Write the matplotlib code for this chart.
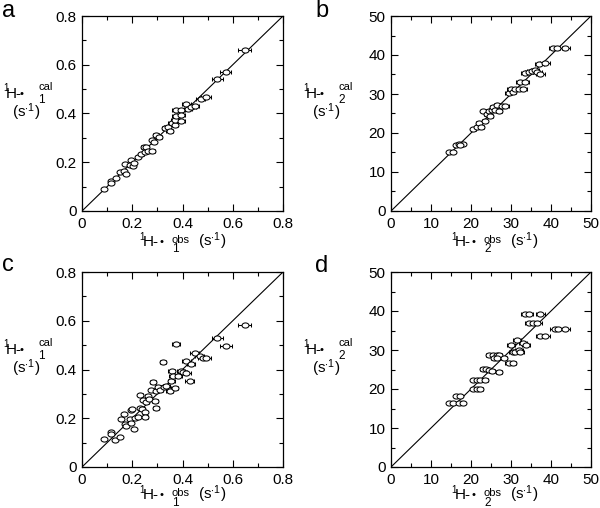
import matplotlib
matplotlib.use("Agg")
import matplotlib.pyplot as plt
from matplotlib.ticker import MultipleLocator
from matplotlib.path import Path

plt.rcParams['font.family'] = ['Liberation Sans', 'DejaVu Sans']
plt.rcParams['mathtext.fontset'] = 'custom'
plt.rcParams['mathtext.rm'] = 'Liberation Sans'
plt.rcParams['mathtext.it'] = 'Liberation Sans:italic'
plt.rcParams['mathtext.bf'] = 'Liberation Sans:bold'

# ---------------- data ----------------
a_x = [0.088,0.114,0.117,0.134,0.153,0.166,0.174,0.172,0.194,0.19,0.203,0.206,0.223,0.236,0.245,0.251,0.256,0.263,0.28,0.28,0.285,0.296,0.306,0.332,0.342,0.349,0.357,0.369,0.375,0.371,0.375,0.393,0.395,0.393,0.415,0.422,0.435,0.448,0.472,0.495,0.539,0.572,0.647]
a_y = [0.090,0.124,0.114,0.135,0.160,0.166,0.153,0.194,0.211,0.19,0.186,0.198,0.222,0.233,0.261,0.242,0.261,0.246,0.246,0.293,0.283,0.311,0.304,0.341,0.345,0.328,0.361,0.352,0.413,0.375,0.389,0.413,0.393,0.369,0.44,0.42,0.427,0.431,0.461,0.466,0.540,0.569,0.662]
a_xerr = [0.004,0.005,0.005,0.005,0.006,0.007,0.007,0.007,0.008,0.008,0.008,0.008,0.009,0.009,0.010,0.010,0.010,0.011,0.011,0.011,0.011,0.012,0.012,0.013,0.014,0.014,0.014,0.015,0.015,0.015,0.015,0.016,0.016,0.016,0.017,0.017,0.017,0.018,0.019,0.020,0.022,0.023,0.026]

b_x = [14.6,15.6,16.3,16.9,17.9,17.2,20.6,21.5,21.9,22.5,23.4,23.1,24.0,24.4,24.8,25.2,25.6,26.0,26.5,27.0,27.7,28.5,29.4,29.9,30.4,31.0,31.9,32.3,33.1,33.5,33.5,34.4,35.2,36.0,36.6,37.3,37.1,38.5,40.6,41.5,43.5]
b_y = [15.1,15.1,16.9,17.3,17.3,16.8,21.1,21.5,22.6,21.5,23.0,25.6,24.8,25.6,24.3,26.0,26.7,25.8,27.1,25.6,26.8,27.0,30.3,31.4,30.5,31.4,31.4,33.1,31.4,33.1,35.4,35.6,35.9,36.2,35.6,35.0,37.8,37.9,41.8,41.8,41.8]
b_xerr = [0.4,0.5,0.5,0.5,0.5,0.5,0.6,0.6,0.7,0.7,0.7,0.7,0.7,0.7,0.7,0.8,0.8,0.8,0.8,0.8,0.8,0.9,0.9,0.9,0.9,0.9,1.0,1.0,1.0,1.0,1.0,1.0,1.1,1.1,1.1,1.1,1.1,1.2,1.2,1.2,1.3]

c_x = [0.088,0.114,0.114,0.13,0.15,0.154,0.166,0.172,0.176,0.19,0.194,0.2,0.196,0.206,0.21,0.223,0.23,0.232,0.24,0.243,0.25,0.252,0.256,0.261,0.267,0.276,0.283,0.289,0.293,0.296,0.302,0.312,0.326,0.322,0.336,0.349,0.356,0.358,0.362,0.369,0.375,0.382,0.393,0.4,0.415,0.415,0.428,0.433,0.448,0.468,0.482,0.495,0.539,0.574,0.647]
c_y = [0.113,0.143,0.135,0.11,0.125,0.198,0.218,0.177,0.17,0.195,0.232,0.236,0.18,0.154,0.2,0.204,0.243,0.296,0.238,0.275,0.225,0.204,0.266,0.293,0.277,0.316,0.347,0.272,0.241,0.313,0.33,0.316,0.327,0.429,0.334,0.313,0.354,0.392,0.372,0.323,0.504,0.372,0.395,0.388,0.433,0.386,0.354,0.422,0.466,0.457,0.449,0.449,0.529,0.495,0.582]
c_xerr = [0.004,0.005,0.005,0.005,0.006,0.006,0.007,0.007,0.007,0.008,0.008,0.008,0.008,0.008,0.008,0.009,0.009,0.009,0.010,0.010,0.010,0.010,0.010,0.010,0.011,0.011,0.011,0.012,0.012,0.012,0.012,0.012,0.013,0.013,0.013,0.014,0.014,0.014,0.014,0.015,0.015,0.015,0.016,0.016,0.017,0.017,0.017,0.017,0.018,0.019,0.019,0.020,0.022,0.023,0.026]

d_x = [14.6,15.6,16.9,17.9,16.3,17.3,20.6,21.5,22.3,23.5,20.6,21.5,22.3,23.0,23.8,24.4,25.2,27.0,24.4,25.6,26.5,27.0,25.8,26.5,28.3,29.5,30.4,30.0,30.4,31.0,31.5,31.9,32.3,33.1,33.8,33.4,34.4,37.3,34.6,35.6,36.6,41.0,41.8,43.5,37.3,38.5]
d_y = [16.5,16.5,16.5,16.5,18.1,18.1,22.4,22.4,22.4,22.4,20.1,20.1,20.1,25.2,25.2,25.0,24.7,24.3,28.8,28.8,28.8,28.8,27.9,27.9,27.9,26.6,26.6,31.4,29.5,29.5,32.5,29.9,29.5,31.8,31.2,39.3,39.3,39.3,36.8,36.8,36.8,35.5,35.5,35.5,33.5,33.5]
d_xerr = [0.4,0.5,0.5,0.5,0.5,0.5,0.6,0.6,0.7,0.7,0.6,0.6,0.7,0.7,0.7,0.7,0.8,0.8,0.7,0.8,0.8,0.8,0.8,0.8,0.8,0.9,0.9,0.9,0.9,0.9,0.9,1.0,1.0,1.0,1.0,1.0,1.0,1.1,1.0,1.1,1.1,1.2,1.3,1.3,1.1,1.2]

rate_ticks_1 = [0, 0.2, 0.4, 0.6, 0.8]
rate_labels_1 = ['0', '0.2', '0.4', '0.6', '0.8']
rate_ticks_2 = [0, 10, 20, 30, 40, 50]
rate_labels_2 = ['0', '10', '20', '30', '40', '50']
panel_letters = ['a', 'b', 'c', 'd']
# --------------------------------------

fig = plt.figure(figsize=(6.0, 5.08), dpi=100)
W, H = 600.0, 508.0

def px(x, y, s, **kw):
    fig.text(x / W, 1 - y / H, s, **kw)

def add_axes(l, t, r, b):
    return fig.add_axes([l / W, 1 - b / H, (r - l) / W, (b - t) / H])

# slightly flattened open-circle marker
uc = Path.unit_circle()
ell = Path(uc.vertices * [1.0, 0.74], uc.codes)

boxes = [(82, 16, 283, 211), (391, 16, 591, 211), (82, 272, 283, 467), (391, 272, 591, 467)]
datas = [(a_x, a_y, a_xerr), (b_x, b_y, b_xerr), (c_x, c_y, c_xerr), (d_x, d_y, d_xerr)]
subs = ['1', '2', '1', '2']
letter_pos = [(2, 17), (315, 17), (2, 271), (315, 272)]
ylab_x = [3, 303, 3, 303]
xlab_shift = [0, 3, 0, 3]
xlab_dy = [0, 0, -3, -3]

for i, ((l, t, r, b), (xs, ys, xe)) in enumerate(zip(boxes, datas)):
    ax = add_axes(l, t, r, b)
    if subs[i] == '1':
        ticks, labs, lim, mnr = rate_ticks_1, rate_labels_1, 0.8, 0.1
    else:
        ticks, labs, lim, mnr = rate_ticks_2, rate_labels_2, 50, 5
    ax.plot([0, lim], [0, lim], color='black', lw=0.8, zorder=1)
    ax.errorbar(xs, ys, xerr=xe, fmt='none', ecolor='black', elinewidth=0.75,
                capsize=1.6, capthick=0.75, zorder=2)
    ax.plot(xs, ys, ls='none', marker=ell, ms=5.0, mfc='white', mec='black',
            mew=0.75, zorder=3)
    ax.set_xlim(0, lim)
    ax.set_ylim(0, lim)
    ax.set_xticks(ticks, labs)
    ax.set_yticks(ticks, labs)
    ax.xaxis.set_minor_locator(MultipleLocator(mnr))
    ax.yaxis.set_minor_locator(MultipleLocator(mnr))
    ax.tick_params(which='both', direction='in', top=True, right=True,
                   labelsize=11, width=0.8)
    ax.tick_params(which='major', length=5, pad=4)
    ax.tick_params(which='minor', length=3)
    for s in ax.spines.values():
        s.set_linewidth(0.9)

    # panel letter
    lx, ly = letter_pos[i]
    px(lx, ly, panel_letters[i], fontsize=17, ha='left', va='baseline')

    # y label (pieces)
    yc = (t + b) / 2.0
    x0 = ylab_x[i]
    px(x0, yc - 22.5, '1', fontsize=7, ha='left', va='baseline')
    px(x0 + 2.5, yc - 15, 'H-', fontsize=11, ha='left', va='baseline')
    px(x0 + 17, yc - 16.5, '\u2022', fontsize=8, ha='left', va='baseline')
    px(x0 + 35.5, yc - 23.5, 'cal', fontsize=8, ha='left', va='baseline')
    px(x0 + 35.5, yc - 10.5, subs[i], fontsize=8.5, ha='left', va='baseline')
    px(x0 + 8.5, yc + 3.5, r'(s$^{\cdot 1}$)', fontsize=11, ha='left', va='baseline')

    # x label (pieces)
    xl = l + 57 + xlab_shift[i]
    yb = b + xlab_dy[i]
    px(xl, yb + 29, '1', fontsize=7, ha='left', va='baseline')
    px(xl + 3.5, yb + 35, 'H-', fontsize=11, ha='left', va='baseline')
    px(xl + 20, yb + 34, '\u2022', fontsize=8, ha='left', va='baseline')
    px(xl + 32.5, yb + 32, 'obs', fontsize=8, ha='left', va='baseline')
    px(xl + 33.5, yb + 41.5, subs[i], fontsize=8.5, ha='left', va='baseline')
    px(xl + 59.5, yb + 35, r'(s$^{\cdot 1}$)', fontsize=11, ha='left', va='baseline')

fig.savefig('out.png', dpi=100)
